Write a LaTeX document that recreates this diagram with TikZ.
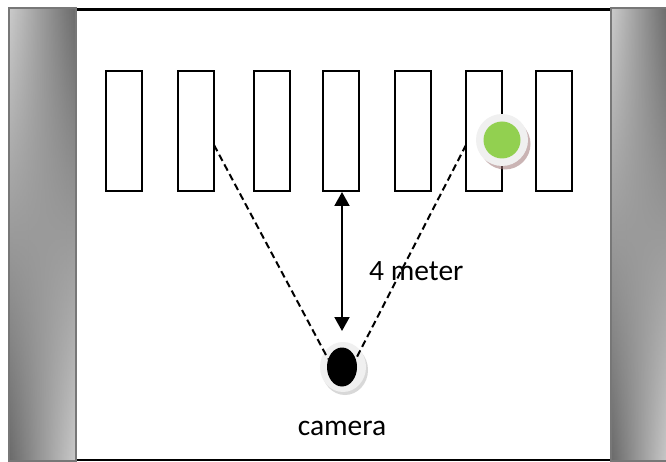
\documentclass[tikz,border=0pt]{standalone}
\usepackage{fontspec}
\setmainfont{Carlito}
\usetikzlibrary{arrows.meta,fadings,shapes.geometric}
\definecolor{pillarlight}{HTML}{CBCBCB}
\definecolor{pillardark}{HTML}{6A6A6A}
\definecolor{pillaredge}{HTML}{777777}
\definecolor{discwhite}{HTML}{F0F0F0}
\definecolor{shadowred}{HTML}{A07878}
\definecolor{dotgreen}{HTML}{92D050}
\tikzset{
  slot/.style={draw=black,line width=2.2pt,fill=white,minimum width=36pt,minimum height=120pt,inner sep=0pt,outer sep=0pt},
  viewline/.style={dashed,dash pattern=on 7pt off 4pt,line width=2pt},
  lbl/.style={font=\fontsize{29.5}{32}\selectfont,inner sep=0pt,anchor=base},
}
\newcommand{\mypillar}[4]{%
  \shade[left color=pillarlight,right color=pillardark] (#1,#2) rectangle (#3,#4);
  \shade[left color=pillardark,right color=pillarlight,path fading=north] (#1,#2) rectangle (#3,#4);
  \draw[pillaredge,line width=2pt] (#1,#2) rectangle (#3,#4);
}
\begin{document}
\begin{tikzpicture}[x=1pt,y=-1pt]
\useasboundingbox (0,0) rectangle (666,462);
\fill[white] (0,0) rectangle (666,462);
% frame
\draw[line width=2.2pt] (76,9.5) -- (612,9.5);
\draw[line width=2.2pt] (76,460) -- (612,460);
% pillars
\mypillar{9}{8}{76}{461}
\mypillar{611}{8}{668}{461}
% slots
\node[slot] (r1) at (124,131) {};
\node[slot] (r2) at (196,131) {};
\node[slot] (r3) at (272,131) {};
\node[slot] (r4) at (341,131) {};
\node[slot] (r5) at (413,131) {};
\node[slot] (r6) at (484,131) {};
\node[slot] (r7) at (554,131) {};
% green marker
\fill[shadowred,opacity=0.55] (505,144) circle (25.5pt);
\node[circle,fill=discwhite,minimum size=52pt,inner sep=0pt] (disc) at (502,140) {};
\node[circle,fill=dotgreen,minimum size=37pt,inner sep=0pt] (dot) at (502,140) {};
% camera
\fill[gray!50,opacity=0.6] (345,370) ellipse (23pt and 25pt);
\node[ellipse,fill=discwhite,minimum width=46pt,minimum height=50pt,inner sep=0pt] (camdisc) at (343,367) {};
\node[ellipse,fill=black,minimum width=30pt,minimum height=39pt,inner sep=0pt] (cam) at (342,367) {};
% view lines
\coordinate (vl) at (r2.east |- 0,145);
\coordinate (vr) at (r6.west |- 0,145);
\draw[viewline] (vl) -- (cam.150);
\draw[viewline] (vr) -- (cam.30);
% distance arrow
\coordinate (atop) at (342,192);
\coordinate (abot) at (342,331);
\draw[line width=2pt,{Triangle[length=14pt,width=15pt]}-{Triangle[length=14pt,width=15pt]}] (atop) -- (abot);
% labels
\node[lbl,anchor=base west] (dist) at (369,280) {4 meter};
\node[lbl] (camlbl) at (342,435) {camera};
\end{tikzpicture}
\end{document}
